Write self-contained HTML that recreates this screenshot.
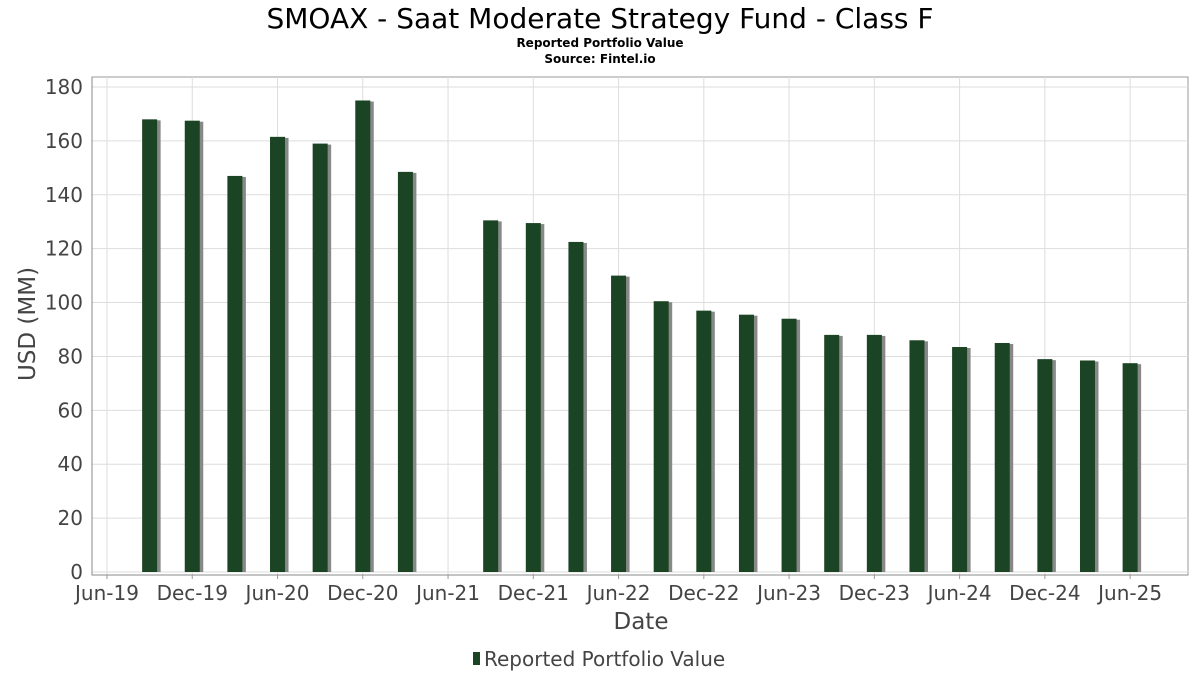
<!DOCTYPE html>
<html><head><meta charset="utf-8"><style>
body{margin:0;background:#fff;font-family:"DejaVu Sans","Liberation Sans",sans-serif;}
</style></head><body>
<svg width="1200" height="675" xmlns="http://www.w3.org/2000/svg" font-family="DejaVu Sans, Liberation Sans, sans-serif">
<text x="600" y="28" text-anchor="middle" font-size="28" fill="#000">SMOAX - Saat Moderate Strategy Fund - Class F</text>
<text x="600" y="47" text-anchor="middle" font-size="12" font-weight="bold" fill="#000">Reported Portfolio Value</text>
<text x="600" y="63" text-anchor="middle" font-size="12" font-weight="bold" fill="#000">Source: Fintel.io</text>
<rect x="92" y="77" width="1096" height="498" fill="#fff" stroke="#999"/>
<g id="grid"></g><g id="bars"></g><g id="axes"></g>
<text x="641" y="629" text-anchor="middle" font-size="23" fill="#444">Date</text>
<text transform="translate(35,324) rotate(-90)" text-anchor="middle" font-size="23" fill="#444">USD (MM)</text>
<g>
<rect x="473" y="652" width="7" height="13" fill="#1a4423"/>
<text x="484" y="666" font-size="20" fill="#444">Reported Portfolio Value</text></g>
</svg>
<script>
const months=[3,6,9,12,15,18,21,27,30,33,36,39,42,45,48,51,54,57,60,63,66,69,72];
const values=[168,167.5,147,161.5,159,175,148.5,130.5,129.5,122.5,110,100.5,97,95.5,94,88,88,86,83.5,85,79,78.5,77.5];
const yTicks=[0,20,40,60,80,100,120,140,160,180];
const xTickMonths=[0,6,12,18,24,30,36,42,48,54,60,66,72];
const xTickLabels=["Jun-19","Dec-19","Jun-20","Dec-20","Jun-21","Dec-21","Jun-22","Dec-22","Jun-23","Dec-23","Jun-24","Dec-24","Jun-25"];
const NS="http://www.w3.org/2000/svg";
const X=m=>107+m*14.21, Y=v=>572-v*2.6944;
function mk(t,a,p){const e=document.createElementNS(NS,t);for(const k in a)e.setAttribute(k,a[k]);p.appendChild(e);return e;}
const g=document.getElementById('grid'),b=document.getElementById('bars'),ax=document.getElementById('axes');
yTicks.forEach(v=>{
 const l=mk('line',{x1:92,x2:1188,y1:Y(v),y2:Y(v),stroke:'#ddd'},g);
 
 
 const t=mk('text',{x:83,y:Y(v)+7,'text-anchor':'end','font-size':20,fill:'#444'},ax);t.textContent=v;
 
 
});
xTickMonths.forEach((m,i)=>{
 const l=mk('line',{x1:X(m),x2:X(m),y1:77,y2:575,stroke:'#ddd'},g);
 
 
 mk('line',{x1:X(m),x2:X(m),y1:575,y2:579,stroke:'#999'},ax);
 const t=mk('text',{x:X(m),y:600,'text-anchor':'middle','font-size':20,fill:'#444'},ax);t.textContent=xTickLabels[i];
 
 
});
mk('line',{x1:92,x2:92,y1:77,y2:575,stroke:'#888'},ax);
mk('line',{x1:92,x2:1188,y1:575,y2:575,stroke:'#888'},ax);
months.forEach((m,i)=>{
 const cx=X(m),y=Y(values[i]);
 const s=mk('rect',{x:cx-7+3,y:y+1,width:15,height:572-y-1,fill:'#888'},b);
 
 
 const r=mk('rect',{x:cx-7.5,y:y,width:15,height:572-y,fill:'#1a4423'},b);
 
 
});
</script>
</body></html>
